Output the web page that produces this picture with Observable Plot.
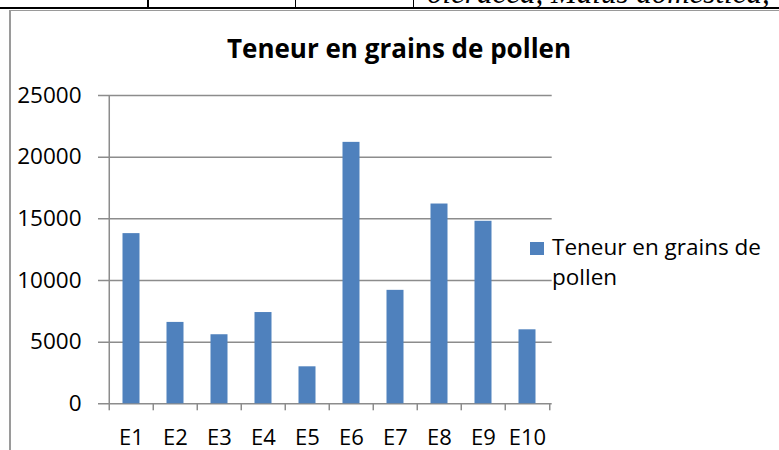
<!DOCTYPE html>
<html>
<head>
<meta charset="utf-8">
<script src="https://cdn.jsdelivr.net/npm/d3@7"></script>
<script src="https://cdn.jsdelivr.net/npm/@observablehq/plot@0.6"></script>
<style>
  html, body { margin: 0; padding: 0; background: #fff; }
  #wrap { position: relative; width: 779px; height: 450px; overflow: hidden; font-family: "Open Sans", sans-serif; }
  #chart { position: absolute; left: 0; top: 0; }
  .abs { position: absolute; }
</style>
</head>
<body>
<div id="wrap">
  <div class="abs" style="left:0;top:0;width:779px;height:7px;overflow:hidden;">
    <div class="abs" style="left:427px;top:-23px;font-family:'Liberation Serif',serif;font-style:italic;font-size:31px;line-height:31px;white-space:nowrap;color:#000;">oleracea, Malus domestica,</div>
  </div>
  <div class="abs" style="left:0;top:7px;width:779px;height:2px;background:#000;"></div>
  <div class="abs" style="left:147px;top:0;width:1.5px;height:8px;background:#000;"></div>
  <div class="abs" style="left:294.5px;top:0;width:1.5px;height:8px;background:#000;"></div>
  <div class="abs" style="left:412.5px;top:0;width:1.5px;height:8px;background:#000;"></div>
  <div class="abs" style="left:9px;top:9.5px;width:770px;height:1.5px;background:#9a9a9a;"></div>
  <div class="abs" style="left:9px;top:9.5px;width:1.5px;height:441px;background:#9a9a9a;"></div>
  <div id="chart"></div>
  <div class="abs" style="left:199px;top:30.2px;width:400px;text-align:center;font-weight:bold;font-size:26px;color:#000;white-space:nowrap;">Teneur en grains de pollen</div>
  <div class="abs" style="left:530px;top:242px;width:14px;height:13px;background:#4F81BD;"></div>
  <div class="abs" style="left:552px;top:232.2px;width:225px;font-size:22.5px;line-height:30px;color:#000;">Teneur en grains de pollen</div>
</div>
<script>
const categories = ["E1","E2","E3","E4","E5","E6","E7","E8","E9","E10"];
const values = [13800, 6600, 5600, 7400, 3000, 21200, 9200, 16200, 14800, 6000];
const yTicks = [0, 5000, 10000, 15000, 20000, 25000];

const data = categories.map((c, i) => ({cat: c, value: values[i]}));

const W = 779, H = 450;
const mL = 107, mR = 227.3, mT = 95, mB = 46.7;
const step = (W - mL - mR) / categories.length;
const gridColor = "#8c8c8c";

const chart = Plot.plot({
  width: W,
  height: H,
  marginLeft: mL,
  marginRight: mR,
  marginTop: mT,
  marginBottom: mB,
  x: {domain: categories, padding: 0, label: null},
  y: {domain: [0, 25000], label: null},
  style: {fontFamily: "Open Sans", fontSize: "22.5px", color: "#000", background: "transparent", overflow: "visible"},
  marks: [
    Plot.ruleY(yTicks, {stroke: gridColor, strokeWidth: 1.5, insetLeft: -9}),
    Plot.barY(data, {x: "cat", y: "value", fill: "#4F81BD", insetLeft: 13.5, insetRight: 13.5}),
    Plot.ruleX([categories[0]], {x: d => d, dx: -step / 2, stroke: gridColor, strokeWidth: 1.5}),
    Plot.ruleX(categories, {x: d => d, y1: 0, y2: 0, insetBottom: -7, dx: -step / 2, stroke: gridColor, strokeWidth: 1.5}),
    Plot.ruleX([categories[categories.length - 1]], {x: d => d, y1: 0, y2: 0, insetBottom: -7, dx: step / 2, stroke: gridColor, strokeWidth: 1.5}),
    Plot.axisY({ticks: yTicks, tickSize: 0, tickPadding: 26, tickFormat: d3.format("d"), fill: "#000"}),
    Plot.axisX({tickSize: 0, tickPadding: 26, fontSize: "22px", fill: "#000"})
  ]
});
document.getElementById("chart").appendChild(chart);
</script>
</body>
</html>
